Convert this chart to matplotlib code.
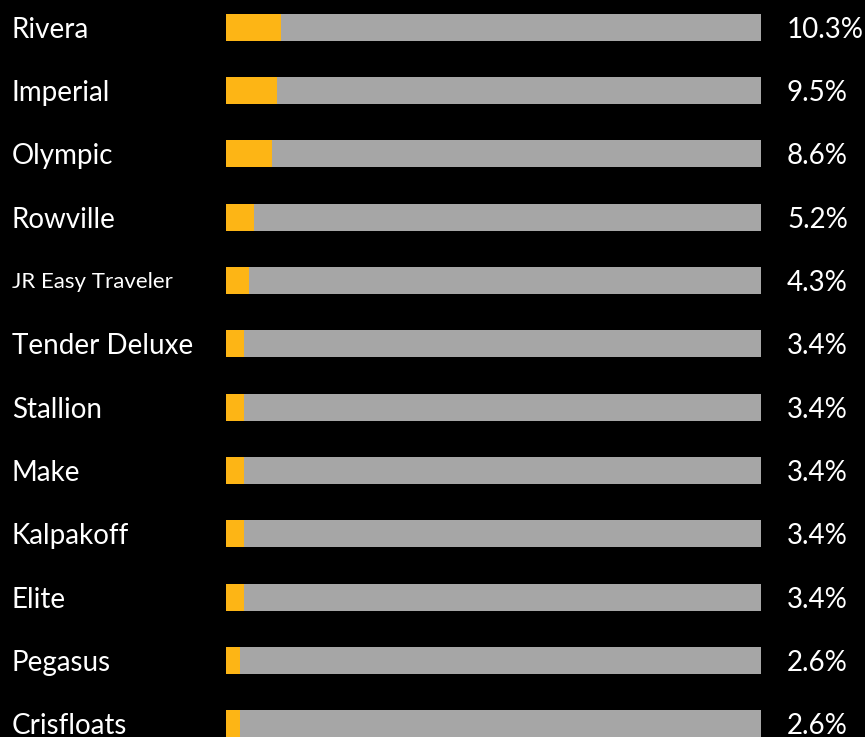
import matplotlib
matplotlib.use('Agg')
import matplotlib.pyplot as plt
import numpy as np

brands = ['Rivera', 'Imperial', 'Olympic', 'Rowville', 'JR Easy Traveler', 'Tender Deluxe',
          'Stallion', 'Make', 'Kalpakoff', 'Elite', 'Pegasus', 'Crisfloats']
shares = [10.3, 9.5, 8.6, 5.2, 4.3, 3.4, 3.4, 3.4, 3.4, 3.4, 2.6, 2.6]
label_sizes = [20, 20, 20, 20, 16, 20, 20, 20, 20, 20, 20, 20]

plt.rcParams['font.family'] = ['Lato', 'DejaVu Sans']

W, H = 865, 737
fig = plt.figure(figsize=(W/100, H/100), dpi=100, facecolor='black')
# axes spans the bar track horizontally, full height vertically
ax = fig.add_axes([226/W, 0, (761-226)/W, 1])
ax.set_facecolor('black')

step = 63.36
top = 27.0
y = np.arange(len(brands))
ax.set_ylim((H-top)/step, -top/step)
ax.set_xlim(0, 100)

h = 27/step
ax.barh(y, [100]*len(brands), height=h, color='#a6a6a6', linewidth=0)
ax.barh(y, shares, height=h, color='#fdb515', linewidth=0)

for i, (b, s) in enumerate(zip(brands, shares)):
    yy = 1 - (top + i*step)/H
    fig.text(12/W, yy, b, color='white', fontsize=label_sizes[i],
             ha='left', va='center_baseline')
    fig.text(787/W, yy, '%.1f%%' % s, color='white', fontsize=20,
             ha='left', va='center_baseline')

ax.axis('off')
fig.savefig('out.png', dpi=100, facecolor='black')
